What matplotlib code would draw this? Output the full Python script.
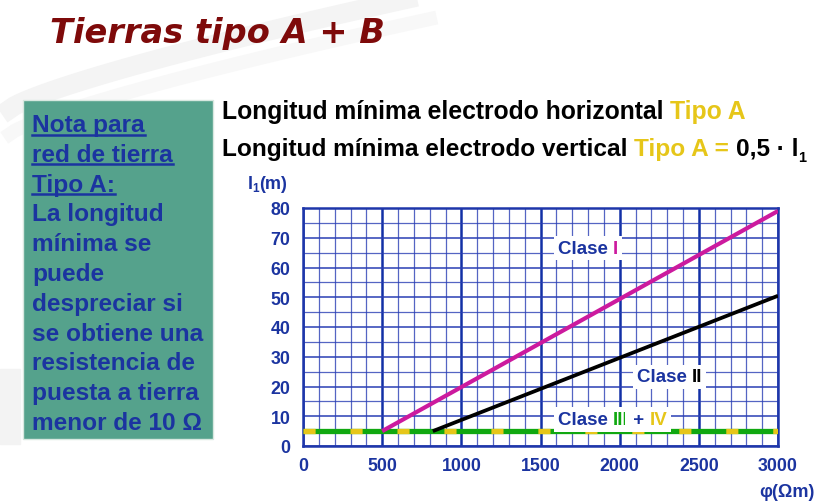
import matplotlib
matplotlib.use("Agg")
import matplotlib.pyplot as plt
import numpy as np

# ---------------- data ----------------
rho_clase1 = [500, 3000]
len_clase1 = [5, 79]
rho_clase2 = [820, 3000]
len_clase2 = [5, 50.5]
rho_clase34 = [0, 3000]
len_clase34 = [5, 5]
x_ticks = [0, 500, 1000, 1500, 2000, 2500, 3000]
y_ticks = [0, 10, 20, 30, 40, 50, 60, 70, 80]
x_minor = list(range(0, 3001, 100))
y_minor = list(range(0, 81, 5))

title_text = "Tierras tipo A + B"
note_lines = ["Nota para", "red de tierra", "Tipo A:", "La longitud", "mínima se",
              "puede", "despreciar si", "se obtiene una", "resistencia de",
              "puesta a tierra", "menor de 10 Ω"]
underlined = 3

ARIAL = ["Liberation Sans", "DejaVu Sans"]
BLUE_TXT = "#1B34A0"
GRID_BLUE = "#2A3EB4"
YELLOW = "#E6C619"
MAGENTA = "#CC1A9E"
GREEN = "#10A810"

fig = plt.figure(figsize=(8.19, 5.02), dpi=100)
fig.patch.set_facecolor("white")
W, H = 819, 502

def fx(px):
    return px / W

def fy(py):
    return 1 - py / H

# very faint background swoosh (slide decoration)
tt = np.linspace(0, 1, 100)
sx = 10 + 420 * tt
sy = 110 - 115 * tt ** 0.8
fig.add_artist(plt.Line2D([fx(v) for v in sx], [fy(v) for v in sy], transform=fig.transFigure,
                          color="#f4f4f4", lw=14, zorder=-5))
fig.add_artist(plt.Line2D([fx(v) for v in sx], [fy(v + 25) for v in sy], transform=fig.transFigure,
                          color="#f8f8f8", lw=10, zorder=-5))
fig.add_artist(plt.Rectangle((0, fy(445)), fx(20), fy(370) - fy(445), transform=fig.transFigure,
                             color="#f3f3f3", zorder=-5))

# title
fig.text(fx(50), fy(43), title_text, family="DejaVu Sans", weight="bold", style="italic",
         fontsize=24.2, color="#7E0A0A", va="baseline", ha="left")

# green note box
box = plt.Rectangle((fx(23), fy(440)), fx(213) - fx(23), fy(101) - fy(440),
                    transform=fig.transFigure, facecolor="#55A28C", edgecolor="#d8e8e0",
                    lw=1, zorder=0)
fig.patches.append(box)

fig.canvas.draw()
renderer = fig.canvas.get_renderer()
for i, line in enumerate(note_lines):
    base = 132 + 29.8 * i
    t = fig.text(fx(32), fy(base), line, family=ARIAL, weight="bold", fontsize=17.6,
                 color=BLUE_TXT, va="baseline", ha="left")
    if i < underlined:
        ext = t.get_window_extent(renderer)
        x0 = ext.x0 / fig.dpi / fig.get_figwidth()
        x1 = ext.x1 / fig.dpi / fig.get_figwidth()
        fig.add_artist(plt.Line2D([x0, x1], [fy(base + 3.5), fy(base + 3.5)],
                                  transform=fig.transFigure, color=BLUE_TXT, lw=1.8))


def chain_text(first_xy, parts, ax=None, size=17, bbox=None, va="baseline"):
    """parts: list of (string, color, size_override, dy_points)"""
    prev = None
    arts = []
    for s, c, sz, dy in parts:
        kw = dict(family=ARIAL, weight="bold", color=c, fontsize=sz if sz else size)
        if bbox is not None:
            kw["bbox"] = bbox
        if prev is None:
            if ax is not None:
                t = ax.text(first_xy[0], first_xy[1], s, va=va, ha="left", zorder=6, **kw)
            else:
                t = fig.text(first_xy[0], first_xy[1], s, va=va, ha="left", **kw)
        else:
            if ax is not None:
                t = ax.annotate(s, xy=(1, 0), xycoords=prev, xytext=(0, dy),
                                textcoords="offset points", va="bottom", ha="left",
                                zorder=6, **kw)
            else:
                t = fig.add_artist(plt.Annotation(s, xy=(1, 0), xycoords=prev,
                                                  xytext=(0, dy), textcoords="offset points",
                                                  va="bottom", ha="left", **kw))
        if dy == 0:
            prev = t
        arts.append(t)
    return arts

# header lines
chain_text((fx(222), fy(119)), [("Longitud mínima electrodo horizontal ", "black", None, 0),
                                 ("Tipo A", YELLOW, None, 0)], size=17.8)
chain_text((fx(222), fy(156)), [("Longitud mínima electrodo vertical ", "black", None, 0),
                                 ("Tipo A = ", YELLOW, None, 0),
                                 ("0,5 · l", "black", None, 0),
                                 ("1", "black", 10.5, -3)], size=17.6)

# axes
ax = fig.add_axes([fx(303), fy(447), fx(778) - fx(303), fy(209) - fy(447)])
ax.set_xlim(0, 3000)
ax.set_ylim(0, 80)
ax.set_xticks(x_minor, minor=True)
ax.set_yticks(y_minor, minor=True)
ax.set_xticks(x_ticks)
ax.set_yticks(y_ticks)
ax.set_xticklabels([str(v) for v in x_ticks])
ax.set_yticklabels([str(v) for v in y_ticks])
for lab in ax.get_xticklabels() + ax.get_yticklabels():
    lab.set_family(ARIAL)
    lab.set_weight("bold")
    lab.set_fontsize(12.8)
    lab.set_color(BLUE_TXT)
ax.tick_params(which="both", length=0)
ax.tick_params(axis="y", pad=9)
ax.tick_params(axis="x", pad=8)
ax.grid(which="minor", color=GRID_BLUE, lw=0.9, alpha=0.8)
ax.grid(which="major", axis="y", color=GRID_BLUE, lw=1.1)
ax.grid(which="major", axis="x", color="#1230A6", lw=1.8)
ax.set_axisbelow(True)
for sp in ax.spines.values():
    sp.set_color("#1E36AA")
    sp.set_linewidth(1.8)

# lines
ax.plot(rho_clase34, len_clase34, color=GREEN, lw=3.8, solid_capstyle="butt", zorder=3)
yl, = ax.plot(rho_clase34, len_clase34, color=YELLOW, lw=3.8, dash_capstyle="butt", zorder=3.1)
yl.set_dashes((2.3, 6.6))
ax.plot(rho_clase1, len_clase1, color=MAGENTA, lw=3.0, solid_capstyle="butt", zorder=4)
ax.plot(rho_clase2, len_clase2, color="black", lw=2.7, solid_capstyle="butt", zorder=4)

wb = dict(facecolor="white", edgecolor="none", pad=2.5)
chain_text((1608, 64.9), [("Clase ", BLUE_TXT, None, 0), ("I", MAGENTA, None, 0)],
           ax=ax, size=13.5, bbox=wb)
chain_text((2108, 21.8), [("Clase ", BLUE_TXT, None, 0), ("II", "black", None, 0)],
           ax=ax, size=13.5, bbox=wb)
chain_text((1608, 7.4), [("Clase ", BLUE_TXT, None, 0), ("III", GREEN, None, 0),
                         (" + ", BLUE_TXT, None, 0), ("IV", YELLOW, None, 0)],
           ax=ax, size=13.5, bbox=wb)

# axis labels
fig.text(fx(248), fy(189), "l", family=ARIAL, weight="bold", fontsize=13, color=BLUE_TXT,
         va="baseline", ha="left")
fig.text(fx(252.5), fy(192), "1", family=ARIAL, weight="bold", fontsize=8.5, color=BLUE_TXT,
         va="baseline", ha="left")
fig.text(fx(259), fy(189), "(m)", family=ARIAL, weight="bold", fontsize=13, color=BLUE_TXT,
         va="baseline", ha="left")
fig.text(fx(815), fy(497), "φ(Ωm)", family=ARIAL, weight="bold", fontsize=13, color=BLUE_TXT,
         va="baseline", ha="right")

fig.savefig("out.png", dpi=100)
